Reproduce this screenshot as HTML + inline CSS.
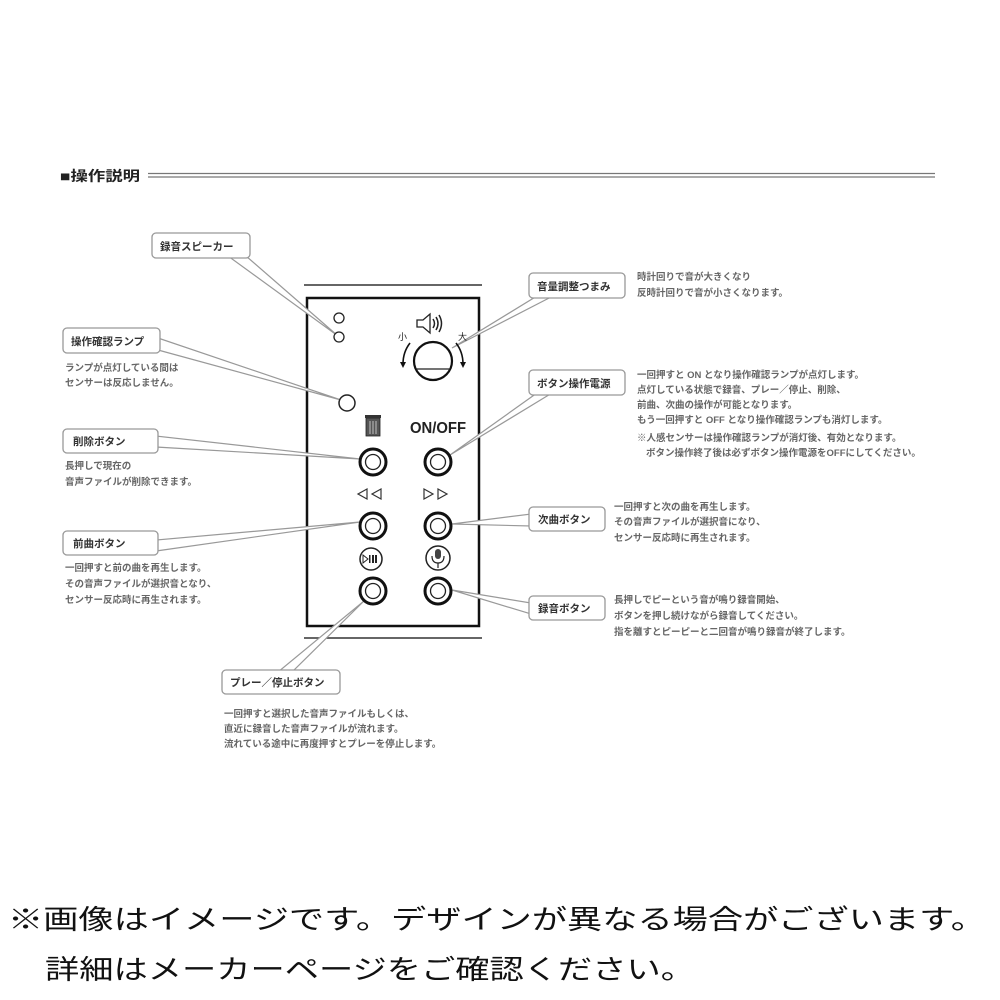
<!DOCTYPE html>
<html><head><meta charset="utf-8"><style>
html,body{margin:0;padding:0;background:#fff;}
svg{display:block;}
.lb{font-family:"Liberation Sans","Noto Sans CJK JP",sans-serif;font-weight:bold;font-size:10.5px;fill:#333;}
.d{font-family:"Liberation Sans","Noto Sans CJK JP",sans-serif;font-weight:bold;font-size:9.5px;fill:#666;}
.box{fill:#fff;stroke:#999;stroke-width:1.3;}
.w{fill:#fff;stroke:#999;stroke-width:1.2;}
.ring{fill:#fff;stroke:#111;stroke-width:3;}
.in{fill:none;stroke:#222;stroke-width:1.3;}
</style></head><body>
<svg width="1000" height="1000" viewBox="0 0 1000 1000" xmlns="http://www.w3.org/2000/svg">
<text x="60" y="181" font-family="Liberation Sans,'Noto Sans CJK JP',sans-serif" font-weight="bold" font-size="14" fill="#222" textLength="80" lengthAdjust="spacingAndGlyphs">■操作説明</text>
<line x1="148" y1="173.5" x2="935" y2="173.5" stroke="#777" stroke-width="1.3"/>
<line x1="148" y1="177" x2="935" y2="177" stroke="#777" stroke-width="1.3"/>

<line x1="304" y1="285" x2="482" y2="285" stroke="#333" stroke-width="1.5"/>
<line x1="304" y1="638" x2="482" y2="638" stroke="#333" stroke-width="1.5"/>
<rect x="307" y="298" width="172" height="328" fill="#fff" stroke="#111" stroke-width="2.5"/>

<polygon class="w" points="228,256 246,256 338,336"/>
<polygon class="w" points="158,338 158,350 341,400"/>
<polygon class="w" points="156,436 156,447 360,459"/>
<polygon class="w" points="156,540 156,551 360,522"/>
<polygon class="w" points="278,672 292,672 364,601"/>
<polygon class="w" points="537,296 553,296 452,348"/>
<polygon class="w" points="537,393 552,393 450,455"/>
<polygon class="w" points="531,514 531,526 452,524"/>
<polygon class="w" points="531,603 531,614 452,590"/>

<circle cx="339" cy="318" r="5" fill="#fff" stroke="#222" stroke-width="1.3"/>
<circle cx="339" cy="337" r="5" fill="#fff" stroke="#222" stroke-width="1.3"/>
<circle cx="347" cy="403" r="8" fill="#fff" stroke="#222" stroke-width="1.5"/>

<circle cx="433" cy="361" r="19" fill="#fff" stroke="#111" stroke-width="2.2"/>
<line x1="416" y1="369" x2="450" y2="369" stroke="#222" stroke-width="1.3"/>
<path d="M410,343 Q403,352 403,364" fill="none" stroke="#111" stroke-width="1.6"/>
<polygon points="400,362 406,362 403,368" fill="#111"/>
<path d="M456,343 Q463,352 463,364" fill="none" stroke="#111" stroke-width="1.6"/>
<polygon points="460,362 466,362 463,368" fill="#111"/>
<text x="398" y="340" font-family="'Noto Sans CJK JP',sans-serif" font-size="9" fill="#222">小</text>
<text x="458" y="340" font-family="'Noto Sans CJK JP',sans-serif" font-size="9" fill="#222">大</text>
<path d="M417,320 L423,320 L430,314 L430,333 L423,327 L417,327 Z" fill="#fff" stroke="#222" stroke-width="1.3"/>
<path d="M433,319 Q436,323.5 433,328 M436,317 Q440,323.5 436,330 M439,315 Q444,323.5 439,332" fill="none" stroke="#222" stroke-width="1.5"/>

<rect x="366" y="418" width="14" height="18" fill="#555" stroke="#222" stroke-width="0.8"/>
<rect x="365" y="415" width="16" height="3" fill="#333"/>
<line x1="370" y1="421" x2="370" y2="434" stroke="#ddd" stroke-width="0.8"/>
<line x1="373" y1="421" x2="373" y2="434" stroke="#ddd" stroke-width="0.8"/>
<line x1="376" y1="421" x2="376" y2="434" stroke="#ddd" stroke-width="0.8"/>
<text x="438" y="433" text-anchor="middle" font-family="Liberation Sans,sans-serif" font-weight="bold" font-size="16" fill="#222" textLength="56" lengthAdjust="spacingAndGlyphs">ON/OFF</text>

<g>
<circle class="ring" cx="373" cy="462" r="13"/><circle class="in" cx="373" cy="462" r="7.5"/>
<circle class="ring" cx="438" cy="462" r="13"/><circle class="in" cx="438" cy="462" r="7.5"/>
<circle class="ring" cx="373" cy="526" r="13"/><circle class="in" cx="373" cy="526" r="7.5"/>
<circle class="ring" cx="438" cy="526" r="13"/><circle class="in" cx="438" cy="526" r="7.5"/>
<circle class="ring" cx="373" cy="591" r="13"/><circle class="in" cx="373" cy="591" r="7.5"/>
<circle class="ring" cx="438" cy="591" r="13"/><circle class="in" cx="438" cy="591" r="7.5"/>
</g>
<path d="M367,489 L358,494 L367,499 Z M381,489 L372,494 L381,499 Z" fill="#fff" stroke="#333" stroke-width="1.2"/>
<path d="M424,489 L433,494 L424,499 Z M438,489 L447,494 L438,499 Z" fill="#fff" stroke="#333" stroke-width="1.2"/>
<circle cx="371" cy="559" r="11" fill="#fff" stroke="#222" stroke-width="1.5"/>
<path d="M363,555 L368,559 L363,563 Z" fill="#fff" stroke="#222" stroke-width="1"/>
<rect x="369" y="555" width="1.5" height="8" fill="#222"/>
<rect x="372" y="555" width="2" height="8" fill="#222"/>
<rect x="375" y="555" width="2" height="8" fill="#222"/>
<circle cx="438" cy="558" r="12" fill="#fff" stroke="#222" stroke-width="1.5"/>
<rect x="435" y="549" width="6" height="10" rx="3" fill="#444"/>
<path d="M432,556 Q432,563 438,563 Q444,563 444,556" fill="none" stroke="#222" stroke-width="1.2"/>
<line x1="438" y1="563" x2="438" y2="568" stroke="#222" stroke-width="1.2"/>

<rect class="box" x="152" y="233" width="98" height="25" rx="4"/>
<text class="lb" x="160" y="250">録音スピーカー</text>
<rect class="box" x="63" y="328" width="97" height="25" rx="4"/>
<text class="lb" x="71" y="345">操作確認ランプ</text>
<text class="d" x="65" y="371">ランプが点灯している間は</text>
<text class="d" x="65" y="386">センサーは反応しません。</text>
<rect class="box" x="63" y="429" width="95" height="24" rx="4"/>
<text class="lb" x="73" y="445">削除ボタン</text>
<text class="d" x="65" y="469">長押しで現在の</text>
<text class="d" x="65" y="485">音声ファイルが削除できます。</text>
<rect class="box" x="63" y="531" width="95" height="24" rx="4"/>
<text class="lb" x="73" y="547">前曲ボタン</text>
<text class="d" x="65" y="571">一回押すと前の曲を再生します。</text>
<text class="d" x="65" y="587">その音声ファイルが選択音となり、</text>
<text class="d" x="65" y="603">センサー反応時に再生されます。</text>
<rect class="box" x="222" y="670" width="118" height="24" rx="4"/>
<text class="lb" x="230" y="686">プレー／停止ボタン</text>
<text class="d" x="224" y="717">一回押すと選択した音声ファイルもしくは、</text>
<text class="d" x="224" y="732">直近に録音した音声ファイルが流れます。</text>
<text class="d" x="224" y="747">流れている途中に再度押すとプレーを停止します。</text>

<rect class="box" x="529" y="273" width="96" height="25" rx="4"/>
<text class="lb" x="537" y="290">音量調整つまみ</text>
<text class="d" x="637" y="280">時計回りで音が大きくなり</text>
<text class="d" x="637" y="296">反時計回りで音が小さくなります。</text>
<rect class="box" x="529" y="370" width="96" height="25" rx="4"/>
<text class="lb" x="537" y="387">ボタン操作電源</text>
<text class="d" x="637" y="378">一回押すと ON となり操作確認ランプが点灯します。</text>
<text class="d" x="637" y="393">点灯している状態で録音、プレー／停止、削除、</text>
<text class="d" x="637" y="408">前曲、次曲の操作が可能となります。</text>
<text class="d" x="637" y="423">もう一回押すと OFF となり操作確認ランプも消灯します。</text>
<text class="d" x="637" y="441">※人感センサーは操作確認ランプが消灯後、有効となります。</text>
<text class="d" x="646" y="456">ボタン操作終了後は必ずボタン操作電源をOFFにしてください。</text>
<rect class="box" x="529" y="507" width="76" height="24" rx="4"/>
<text class="lb" x="538" y="523">次曲ボタン</text>
<text class="d" x="614" y="510">一回押すと次の曲を再生します。</text>
<text class="d" x="614" y="525">その音声ファイルが選択音になり、</text>
<text class="d" x="614" y="541">センサー反応時に再生されます。</text>
<rect class="box" x="529" y="596" width="76" height="24" rx="4"/>
<text class="lb" x="538" y="612">録音ボタン</text>
<text class="d" x="614" y="603">長押しでピーという音が鳴り録音開始、</text>
<text class="d" x="614" y="619">ボタンを押し続けながら録音してください。</text>
<text class="d" x="614" y="635">指を離すとピーピーと二回音が鳴り録音が終了します。</text>

<text x="8" y="929" font-family="'Noto Sans CJK JP',sans-serif" font-size="27" fill="#111" textLength="978" lengthAdjust="spacingAndGlyphs">※画像はイメージです。デザインが異なる場合がございます。</text>
<text x="45" y="979" font-family="'Noto Sans CJK JP',sans-serif" font-size="27" fill="#111" textLength="650" lengthAdjust="spacingAndGlyphs">詳細はメーカーページをご確認ください。</text>
</svg>
</body></html>
